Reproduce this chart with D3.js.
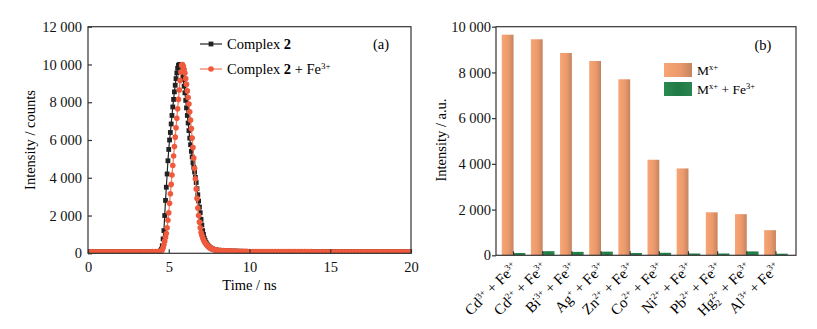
<!DOCTYPE html>
<html><head><meta charset="utf-8">
<script src="https://cdn.jsdelivr.net/npm/d3@7"></script>
<style>
body{margin:0;background:#fff;}
svg{display:block;font-family:"Liberation Serif","Times New Roman",serif;}
</style></head>
<body>
<svg id="chart" width="817" height="329"></svg>
<script>
// ---------------- Data: panel (a) time-resolved decay ----------------
const timeTicks = [0, 5, 10, 15, 20];
const countTicks = [0, 2000, 4000, 6000, 8000, 10000, 12000];
const baseStep = 0.2;             // ns, baseline sampling
const preStart = 0.0;
const peakStart = 4.4, peakStep = 0.05;
const postStart = 8.2;
const complex2Pre = [85,83,86,84,82,85,83,86,84,82,85,83,84,86,83,82,85,84,86,87,89,92];
const complex2Peak = [95,105,140,220,400,760,1200,2000,2800,3500,4200,4900,5500,6000,6400,6850,7300,7750,8150,8550,8900,9250,9550,9800,9950,10000,9950,9800,9650,9430,9200,8850,8500,8100,7700,7300,6900,6500,6100,5750,5400,5100,4800,4550,4300,4020,3750,3420,3100,2770,2450,2150,1800,1500,1200,1000,800,680,580,500,440,390,350,310,280,255,235,215,200,190,180,172,165];
const complex2Post = [155,145,136,128,121,115,110,106,103,100,98,97,96,95,94,93,93,92,92,91,91,90,90,89,89,88,88,88,87,87,87,86,86,86,85,85,85,85,84,84,84,84,83,83,83,83,82,82,82,82,82,81,81,81,81,80,80,80,80,80];
const withFePre = [83,85,82,84,86,83,85,82,84,86,83,85,84,82,85,86,83,84,85,86,88,90];
const withFePeak = [92,97,110,138,185,300,450,650,850,1050,1350,1750,2150,2650,3150,3650,4150,4650,5150,5650,6150,6650,7150,7650,8150,8650,9150,9600,9950,9990,9900,9750,9550,9250,8950,8600,8250,7900,7500,7050,6600,6100,5600,5050,4500,3950,3400,2900,2400,2000,1650,1350,1100,950,820,720,630,565,500,450,400,365,330,300,270,250,230,215,200,190,180,172,165];
const withFePost = [154,144,135,127,120,114,109,105,102,99,97,96,95,94,93,92,92,91,91,90,90,89,89,88,88,88,87,87,87,86,86,86,85,85,85,85,84,84,84,83,83,83,83,82,82,82,82,81,81,81,81,80,80,80,80,80,79,79,79,79];

// ---------------- Data: panel (b) bar chart ----------------
const metals  = ["Cd","Cd","Bi","Ag","Zn","Co","Ni","Pb","Hg","Al"];
const metalSub = ["","","","","","","","","2",""];
const charges = ["3+","2+","3+","+","2+","2+","2+","2+","2+","3+"];
const intensityM  = [9650,9450,8850,8500,7700,4180,3800,1880,1800,1100];
const intensityFe = [100,180,150,160,100,110,80,80,170,70];
const intensityTicks = [0,2000,4000,6000,8000,10000];

// ---------------- helpers ----------------
const svg = d3.select("#chart");
const FS = 14.5;
const fmt = d3.formatLocale({decimal:".", thousands:" ", grouping:[3], currency:["",""]}).format(",d");
const axisColor = "#333";

function toSeries(pre, peak, post){
  const out = [];
  pre.forEach((c,i)=>out.push({t: preStart + i*baseStep, c}));
  peak.forEach((c,i)=>out.push({t: peakStart + i*peakStep, c}));
  post.forEach((c,i)=>out.push({t: postStart + i*baseStep, c}));
  return out;
}
function rich(sel, parts, supSize){
  supSize = supSize || 9;
  let shift = 0;
  parts.forEach(([txt, kind, extra])=>{
    const ts = sel.append("tspan").text(txt);
    let target = 0;
    if(kind==="sup"){ ts.attr("font-size", supSize); target = -5.5; }
    else if(kind==="sub"){ ts.attr("font-size", supSize); target = 3.5; }
    else if(kind==="b"){ ts.attr("font-weight","bold"); }
    if(extra && extra.dx) ts.attr("dx", extra.dx);
    ts.attr("dy", target - shift);
    shift = target;
  });
}

// ================= Panel (a) =================
const ax = {l:88, r:411, t:26.7, b:253.3};
const xA = d3.scaleLinear().domain([0,20]).range([ax.l, ax.r]);
const yA = d3.scaleLinear().domain([0,12000]).range([ax.b, ax.t]);
const gA = svg.append("g");

svg.append("defs").append("clipPath").attr("id","clipA")
  .append("rect").attr("x",ax.l).attr("y",ax.t-5).attr("width",ax.r-ax.l+1).attr("height",ax.b-ax.t+5);

const serBlack = toSeries(complex2Pre, complex2Peak, complex2Post);
const serRed = toSeries(withFePre, withFePeak, withFePost);
const line = d3.line().x(d=>xA(d.t)).y(d=>yA(d.c));
const black = "#222222", red = "#F05A3C", redLine = "#F2765A";

const plotA = gA.append("g").attr("clip-path","url(#clipA)");
plotA.append("path").datum(serBlack).attr("d", line).attr("fill","none").attr("stroke",black).attr("stroke-width",1.2);
plotA.selectAll("rect.sq").data(serBlack).join("rect").attr("class","sq")
  .attr("x",d=>xA(d.t)-2.4).attr("y",d=>yA(d.c)-2.4).attr("width",4.8).attr("height",4.8).attr("fill",black);
plotA.append("path").datum(serRed).attr("d", line).attr("fill","none").attr("stroke",redLine).attr("stroke-width",1.2);
plotA.selectAll("circle.ci").data(serRed).join("circle").attr("class","ci")
  .attr("cx",d=>xA(d.t)).attr("cy",d=>yA(d.c)).attr("r",2.8).attr("fill",red);

const axB = d3.axisBottom(xA).tickValues(timeTicks).tickSizeInner(-4).tickSizeOuter(0).tickPadding(8).tickFormat(d3.format("d"));
gA.append("g").attr("transform",`translate(0,${ax.b})`).call(axB);
const axL = d3.axisLeft(yA).tickValues(countTicks).tickSizeInner(-4).tickSizeOuter(0).tickPadding(6).tickFormat(fmt);
gA.append("g").attr("transform",`translate(${ax.l},0)`).call(axL);
gA.append("rect").attr("x",ax.l).attr("y",ax.t).attr("width",ax.r-ax.l).attr("height",ax.b-ax.t)
  .attr("fill","none").attr("stroke",axisColor).attr("stroke-width",1.2);

gA.append("text").attr("x",(ax.l+ax.r)/2).attr("y",290).attr("text-anchor","middle").attr("font-size",FS).text("Time / ns");
gA.append("text").attr("transform","translate(35,140) rotate(-90)").attr("text-anchor","middle").attr("font-size",FS).text("Intensity / counts");
gA.append("text").attr("x",381).attr("y",49).attr("text-anchor","middle").attr("font-size",FS).text("(a)");

gA.append("line").attr("x1",200).attr("x2",222).attr("y1",44).attr("y2",44).attr("stroke",black).attr("stroke-width",1.2);
gA.append("rect").attr("x",211-2.4).attr("y",44-2.4).attr("width",4.8).attr("height",4.8).attr("fill",black);
rich(gA.append("text").attr("x",227).attr("y",49).attr("font-size",FS), [["Complex ","n"],["2","b"]]);
gA.append("line").attr("x1",200).attr("x2",222).attr("y1",69).attr("y2",69).attr("stroke",redLine).attr("stroke-width",1.2);
gA.append("circle").attr("cx",211).attr("cy",69).attr("r",2.8).attr("fill",red);
rich(gA.append("text").attr("x",227).attr("y",74).attr("font-size",FS), [["Complex ","n"],["2","b"],[" + Fe","n"],["3+","sup"]]);

// ================= Panel (b) =================
const bx = {l:496, r:796, t:26.7, b:255.3};
const xB = d3.scaleBand().domain(d3.range(metals.length)).range([bx.l, bx.r]).paddingInner(0.19).paddingOuter(0.24).align(0.41);
const xSub = d3.scaleBand().domain(["m","fe"]).range([0, xB.bandwidth()]);
const yB = d3.scaleLinear().domain([0,10000]).range([bx.b, bx.t]);
const gB = svg.append("g");
const defs = svg.append("defs");
const og = defs.append("linearGradient").attr("id","orangeGrad").attr("x1","0").attr("x2","1").attr("y1","0").attr("y2","0");
og.append("stop").attr("offset","0%").attr("stop-color","#F8A575");
og.append("stop").attr("offset","55%").attr("stop-color","#EC9A6C");
og.append("stop").attr("offset","100%").attr("stop-color","#C4845F");
const gg = defs.append("linearGradient").attr("id","greenGrad").attr("x1","0").attr("x2","1").attr("y1","0").attr("y2","0");
gg.append("stop").attr("offset","0%").attr("stop-color","#2A8A50");
gg.append("stop").attr("offset","50%").attr("stop-color","#1F7A45");
gg.append("stop").attr("offset","100%").attr("stop-color","#2A8450");

gB.selectAll("rect.m").data(intensityM).join("rect").attr("class","m")
  .attr("x",(d,i)=>xB(i)+xSub("m")).attr("width",xSub.bandwidth())
  .attr("y",d=>yB(d)).attr("height",d=>bx.b-yB(d)).attr("fill","url(#orangeGrad)");
gB.selectAll("rect.fe").data(intensityFe).join("rect").attr("class","fe")
  .attr("x",(d,i)=>xB(i)+xSub("fe")).attr("width",xSub.bandwidth())
  .attr("y",d=>yB(d)).attr("height",d=>bx.b-yB(d)).attr("fill","url(#greenGrad)");

const axBL = d3.axisLeft(yB).tickValues(intensityTicks).tickSizeInner(4).tickSizeOuter(0).tickPadding(1).tickFormat(fmt);
gB.append("g").attr("transform",`translate(${bx.l},0)`).call(axBL);
const axBB = d3.axisBottom(xB).tickSizeInner(-4).tickSizeOuter(0).tickFormat("");
gB.append("g").attr("transform",`translate(0,${bx.b})`).call(axBB);
gB.append("rect").attr("x",bx.l).attr("y",bx.t).attr("width",bx.r-bx.l).attr("height",bx.b-bx.t)
  .attr("fill","none").attr("stroke",axisColor).attr("stroke-width",1.2);

metals.forEach((m,i)=>{
  const cx = xB(i) + xB.bandwidth()/2;
  const t = gB.append("text").attr("transform",`translate(${cx+5},${bx.b+13}) rotate(-45)`)
    .attr("text-anchor","end").attr("font-size",15);
  const parts = [[m,"n"]];
  if(metalSub[i]){ parts.push([metalSub[i],"sub"]); parts.push([charges[i],"sup",{dx:-4.6}]); }
  else parts.push([charges[i],"sup"]);
  parts.push([" + Fe","n"]); parts.push(["3+","sup"]);
  rich(t, parts, 9);
});

gB.append("text").attr("transform","translate(446,140) rotate(-90)").attr("text-anchor","middle").attr("font-size",FS).text("Intensity / a.u.");
gB.append("text").attr("x",763).attr("y",50).attr("text-anchor","middle").attr("font-size",FS).text("(b)");

gB.append("rect").attr("x",664).attr("y",63).attr("width",28).attr("height",14).attr("fill","url(#orangeGrad)");
gB.append("rect").attr("x",664).attr("y",82).attr("width",28).attr("height",14).attr("fill","url(#greenGrad)");
rich(gB.append("text").attr("x",697).attr("y",75).attr("font-size",13.5), [["M","n"],["x+","sup"]], 8.5);
rich(gB.append("text").attr("x",697).attr("y",94).attr("font-size",13.5), [["M","n"],["x+","sup"],[" + Fe","n"],["3+","sup"]], 8.5);

svg.selectAll(".domain").remove();
svg.selectAll(".tick line").attr("stroke",axisColor).attr("stroke-width",1.2);
svg.selectAll(".tick text").attr("font-size",FS).attr("font-family","'Liberation Serif','Times New Roman',serif").attr("fill","#111");
</script>
</body></html>
